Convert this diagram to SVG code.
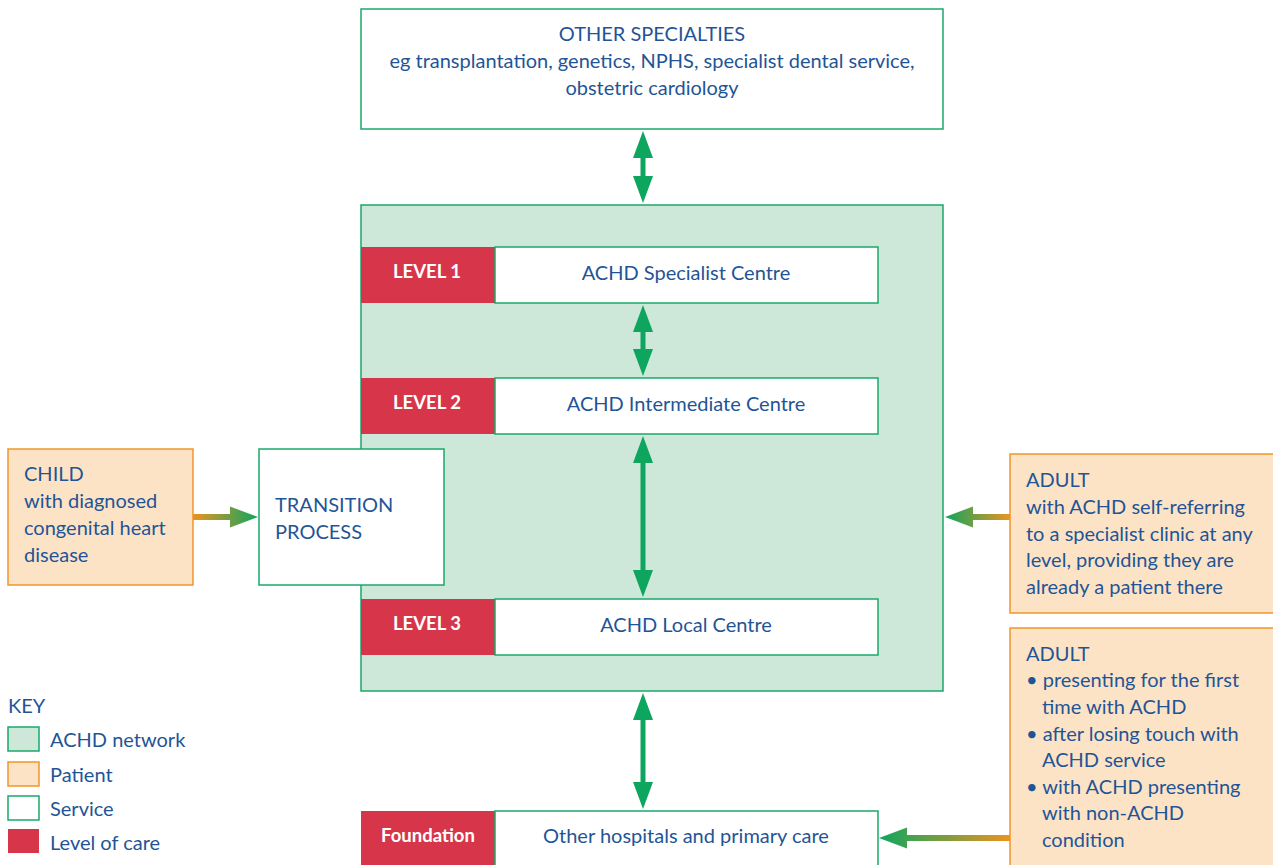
<svg xmlns="http://www.w3.org/2000/svg" width="1273" height="865" viewBox="0 0 1273 865">
<defs>
<linearGradient id="gR" x1="0" y1="0" x2="1" y2="0"><stop offset="0" stop-color="#ec9320"/><stop offset="1" stop-color="#0ea65f"/></linearGradient>
<linearGradient id="gL" x1="1" y1="0" x2="0" y2="0"><stop offset="0" stop-color="#ec9320"/><stop offset="1" stop-color="#0ea65f"/></linearGradient>
<style>
text{font-family:Lato,"Noto Sans","Liberation Sans",sans-serif;font-size:20px;fill:#1f5596}
.c{text-anchor:middle}
.w{fill:#fff;font-weight:bold;font-size:18.5px}
.svc{fill:#fff;stroke:#1aa86a;stroke-width:1.5}
.net{fill:#cde8d8;stroke:#1aa86a;stroke-width:1.5}
.pat{fill:#fde3c6;stroke:#f0962a;stroke-width:1.5}
.lvl{fill:#d7364a}
.va{fill:#0ea65f}
</style>
</defs>
<rect width="1273" height="865" fill="#fff"/>
<g id="network"><rect class="net" x="361" y="205" width="582" height="486"/></g>
<g id="other-specialties">
<rect class="svc" x="361" y="9" width="582" height="120"/>
<text class="c" x="652" y="41">OTHER SPECIALTIES</text>
<text class="c" x="652" y="68">eg transplantation, genetics, NPHS, specialist dental service,</text>
<text class="c" x="652" y="95">obstetric cardiology</text>
</g>
<g id="level1">
<rect class="lvl" x="361" y="247" width="134" height="56"/>
<rect class="svc" x="495" y="247" width="383" height="56"/>
<text class="c w" x="427" y="278">LEVEL 1</text>
<text class="c" x="686" y="280">ACHD Specialist Centre</text>
</g>
<g id="level2">
<rect class="lvl" x="361" y="378" width="134" height="56"/>
<rect class="svc" x="495" y="378" width="383" height="56"/>
<text class="c w" x="427" y="409">LEVEL 2</text>
<text class="c" x="686" y="411">ACHD Intermediate Centre</text>
</g>
<g id="level3">
<rect class="lvl" x="361" y="599" width="134" height="56"/>
<rect class="svc" x="495" y="599" width="383" height="56"/>
<text class="c w" x="427" y="630">LEVEL 3</text>
<text class="c" x="686" y="632">ACHD Local Centre</text>
</g>
<g id="foundation">
<rect class="lvl" x="361" y="811" width="134" height="56"/>
<rect class="svc" x="495" y="811" width="383" height="56"/>
<text class="c w" x="428" y="842">Foundation</text>
<text class="c" x="686" y="843">Other hospitals and primary care</text>
</g>
<g id="transition">
<rect class="svc" x="259" y="449" width="185" height="136"/>
<text x="275" y="512">TRANSITION</text>
<text x="275" y="539">PROCESS</text>
</g>
<g id="child">
<rect class="pat" x="8" y="449" width="185" height="136"/>
<text x="24" y="481">CHILD</text>
<text x="24" y="508">with diagnosed</text>
<text x="24" y="535">congenital heart</text>
<text x="24" y="562">disease</text>
</g>
<g id="adult-self">
<rect class="pat" x="1010" y="454" width="265" height="159"/>
<text x="1026" y="487">ADULT</text>
<text x="1026" y="514">with ACHD self-referring</text>
<text x="1026" y="541">to a specialist clinic at any</text>
<text x="1026" y="567">level, providing they are</text>
<text x="1026" y="594">already a patient there</text>
</g>
<g id="adult-first">
<rect class="pat" x="1010" y="628" width="265" height="240"/>
<text x="1026" y="661">ADULT</text>
<text x="1026" y="687">• presenting for the first</text>
<text x="1042" y="714">time with ACHD</text>
<text x="1026" y="741">• after losing touch with</text>
<text x="1042" y="767">ACHD service</text>
<text x="1026" y="794">• with ACHD presenting</text>
<text x="1042" y="820">with non-ACHD</text>
<text x="1042" y="847">condition</text>
</g>
<g id="key">
<text x="8" y="713">KEY</text>
<rect class="net" x="8" y="727" width="31" height="24"/>
<text x="50" y="747">ACHD network</text>
<rect class="pat" x="8" y="762" width="31" height="24"/>
<text x="50" y="782">Patient</text>
<rect class="svc" x="8" y="796" width="31" height="24"/>
<text x="50" y="816">Service</text>
<rect class="lvl" x="8" y="829" width="31" height="24"/>
<text x="50" y="850">Level of care</text>
</g>
<g id="connectors">
<path class="va" d="M643,131 L653,158 L645.5,158 L645.5,176 L653,176 L643,203 L633,176 L640.5,176 L640.5,158 L633,158 Z"/>
<path class="va" d="M643,305 L653,332 L645.5,332 L645.5,349 L653,349 L643,376 L633,349 L640.5,349 L640.5,332 L633,332 Z"/>
<path class="va" d="M643,436 L653,463 L645.5,463 L645.5,570 L653,570 L643,597 L633,570 L640.5,570 L640.5,463 L633,463 Z"/>
<path class="va" d="M643,693 L653,720 L645.5,720 L645.5,782 L653,782 L643,809 L633,782 L640.5,782 L640.5,720 L633,720 Z"/>
<path fill="url(#gR)" d="M193,514 L230,514 L230,506.5 L258,517 L230,527.5 L230,520 L193,520 Z"/>
<path fill="url(#gL)" d="M1010,514 L973,514 L973,506.5 L945,517 L973,527.5 L973,520 L1010,520 Z"/>
<path fill="url(#gL)" d="M1010,835 L907,835 L907,827.5 L879,838 L907,848.5 L907,841 L1010,841 Z"/>
</g>
</svg>
